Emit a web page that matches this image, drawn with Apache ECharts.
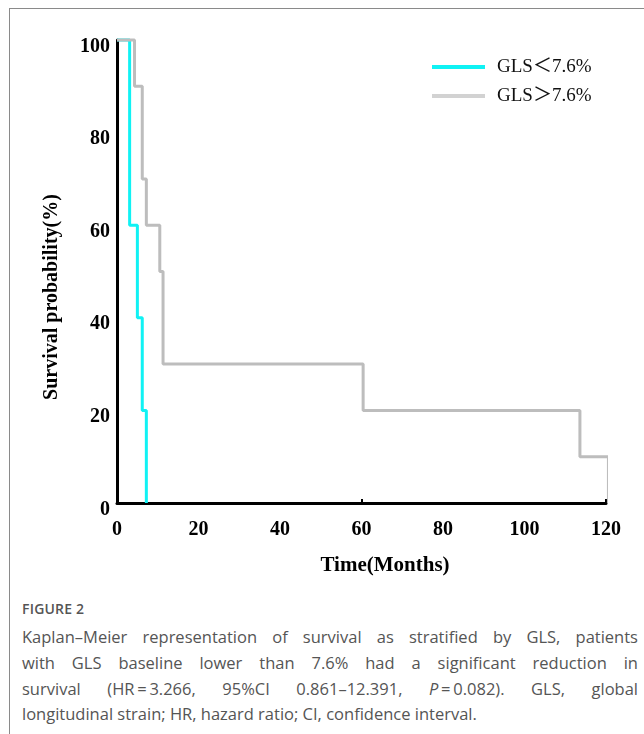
<!DOCTYPE html>
<html>
<head>
<meta charset="utf-8">
<script src="https://cdn.jsdelivr.net/npm/echarts@6/dist/echarts.min.js"></script>
<style>
  html, body { margin: 0; padding: 0; background: #fff; }
  #page { position: relative; width: 644px; height: 734px; overflow: hidden; }
  #frameTop { position: absolute; left: 9px; top: 8px; width: 640px; height: 1px; background: #8a8a8a; }
  #frameLeft { position: absolute; left: 9px; top: 8px; width: 1px; height: 730px; background: #8a8a8a; }
  #chart { position: absolute; left: 0; top: 0; width: 644px; height: 590px; }
  .cap { position: absolute; left: 22px; width: 616px; font-family: "Open Sans", "Noto Sans", sans-serif; color: #555; }
  #figlabel { top: 599px; font-size: 14px; font-weight: 600; letter-spacing: 0.2px; }
  .line { font-size: 16.5px; line-height: 20px; text-align: justify; text-align-last: justify; }
  .line.last { text-align-last: left; }
  .ib { display: inline-block; }
</style>
</head>
<body>
<div id="page">
  <div id="frameTop"></div>
  <div id="frameLeft"></div>
  <div id="chart"></div>
  <div id="figlabel" class="cap">FIGURE 2</div>
  <div class="cap line" style="top:627px;">Kaplan–Meier representation of survival as stratified by GLS, patients</div>
  <div class="cap line" style="top:653px;">with GLS baseline lower than 7.6% had a significant reduction in</div>
  <div class="cap line" style="top:679px;">survival <span class="ib">(HR&#8201;=&#8201;3.266,</span> 95%CI 0.861–12.391, <span class="ib"><i>P</i>&#8201;=&#8201;0.082).</span> GLS, global</div>
  <div class="cap line last" style="top:704px;">longitudinal strain; HR, hazard ratio; CI, confidence interval.</div>
</div>
<script>
// ---- data ----
var seriesNames = ['GLS\uFF1C7.6%', 'GLS\uFF1E7.6%'];
// Kaplan–Meier step points: [time in months, survival %]
var lowGLS = [[0, 100], [3.1, 60], [5.0, 40], [6.2, 20], [7.2, 0]];
var highGLS = [[0, 100], [4.3, 90], [6.2, 70], [7.2, 60], [10.5, 50], [11.3, 30], [60.4, 20], [113.6, 10], [120.6, 0]];
var xTicks = [0, 20, 40, 60, 80, 100, 120];
var yTicks = [0, 20, 40, 60, 80, 100];
var xTitle = 'Time(Months)';
var yTitle = 'Survival probability(%)';

var serif = '"Liberation Serif", "Times New Roman", serif';
var chart = echarts.init(document.getElementById('chart'), null, { renderer: 'canvas' });
chart.setOption({
  animation: false,
  backgroundColor: 'transparent',
  grid: { left: 117, top: 40, width: 489, height: 463, containLabel: false, outerBoundsMode: 'none' },
  legend: {
    orient: 'vertical',
    left: 432,
    top: 57,
    padding: 0,
    icon: 'rect',
    itemWidth: 53,
    itemHeight: 4,
    itemGap: 9,
    data: [
      { name: seriesNames[0], itemStyle: { color: '#10f2f4' } },
      { name: seriesNames[1], itemStyle: { color: '#d2d2d2' } }
    ],
    textStyle: { fontFamily: serif + ', "Noto Sans CJK SC"', fontSize: 19, color: '#111', lineHeight: 20, padding: [0, 0, 0, 7] }
  },
  xAxis: [{
    type: 'value', min: xTicks[0], max: xTicks[xTicks.length - 1], interval: 20,
    axisLine: { show: true, lineStyle: { color: '#000', width: 3 } },
    axisTick: { show: false },
    splitLine: { show: false },
    axisLabel: { margin: 17, fontFamily: serif, fontWeight: 'bold', fontSize: 20, color: '#000' }
  }, {
    type: 'value', min: 0, max: 120, interval: 60, position: 'bottom',
    axisLine: { show: false },
    axisTick: { show: true, inside: true, length: 4, lineStyle: { color: '#000', width: 2 } },
    axisLabel: { show: false },
    splitLine: { show: false }
  }],
  yAxis: {
    type: 'value', min: yTicks[0], max: yTicks[yTicks.length - 1], interval: 20,
    axisLine: { show: true, lineStyle: { color: '#000', width: 3 } },
    axisTick: { show: false },
    splitLine: { show: false },
    axisLabel: { margin: 7, verticalAlign: 'top', lineHeight: 13, fontFamily: serif, fontWeight: 'bold', fontSize: 20, color: '#000' }
  },
  graphic: [
    { type: 'text', x: 52, y: 297, rotation: Math.PI / 2,
      style: { text: yTitle, fontFamily: serif, fontWeight: 'bold', fontSize: 20, fill: '#000', align: 'center', verticalAlign: 'middle' } },
    { type: 'text', x: 385, y: 566,
      style: { text: xTitle, fontFamily: serif, fontWeight: 'bold', fontSize: 21, fill: '#000', align: 'center', verticalAlign: 'middle' } }
  ],
  series: [
    { name: seriesNames[0], type: 'line', step: 'end', data: lowGLS, showSymbol: false, symbol: 'none', clip: false,
      lineStyle: { color: '#10f2f4', width: 3 }, itemStyle: { color: '#10f2f4' }, z: 2 },
    { name: seriesNames[1], type: 'line', step: 'end', data: highGLS, showSymbol: false, symbol: 'none', clip: false,
      lineStyle: { color: '#bdbdbd', width: 3 }, itemStyle: { color: '#bdbdbd' }, z: 3 }
  ]
});
</script>
</body>
</html>
